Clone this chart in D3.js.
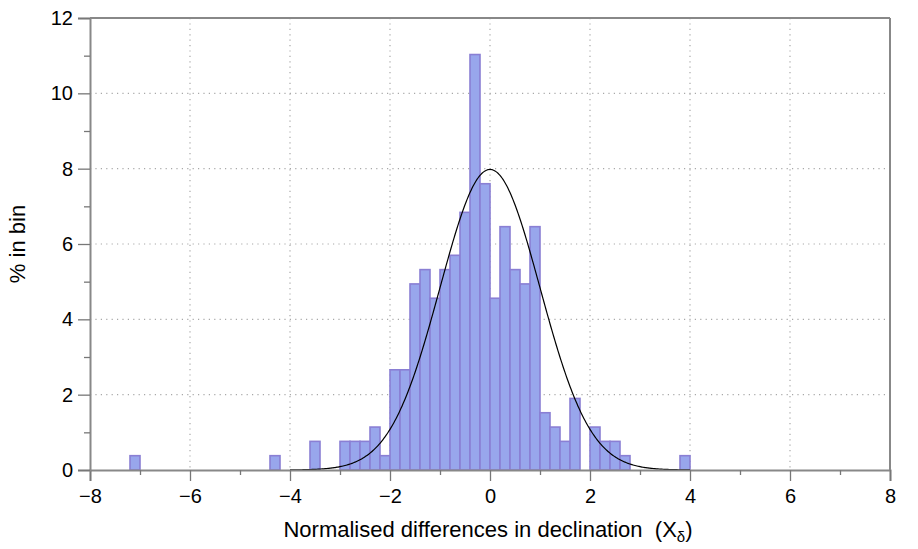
<!DOCTYPE html>
<html>
<head>
<meta charset="utf-8">
<script src="https://cdn.jsdelivr.net/npm/d3@7"></script>
<style>
  body { margin: 0; background: #fff; }
  text { font-family: "Liberation Sans", Arial, Helvetica, sans-serif; fill: #000; }
</style>
</head>
<body>
<div id="chart"></div>
<script>
// histogram: lower edge of each 0.2-wide bin and % in that bin
var binLow = [-7.2, -4.4, -3.6, -3.0, -2.8, -2.6, -2.4, -2.2, -2.0, -1.8, -1.6, -1.4, -1.2, -1.0,
              -0.8, -0.6, -0.4, -0.2, 0.0, 0.2, 0.4, 0.6, 0.8, 1.0, 1.2, 1.4, 1.6, 2.0, 2.2, 2.4, 2.6, 3.8];
var pct    = [0.38, 0.38, 0.76, 0.76, 0.76, 0.76, 1.14, 0.38, 2.66, 2.66, 4.94, 5.32, 4.56, 5.32,
              5.70, 6.84, 11.03, 7.60, 4.56, 6.46, 5.32, 4.94, 6.46, 1.52, 1.14, 0.76, 1.90, 1.14, 0.76, 0.76, 0.38, 0.38];
var binWidth = 0.2;

var xTicks = [-8, -6, -4, -2, 0, 2, 4, 6, 8];
var xMinor = [-7, -5, -3, -1, 1, 3, 5, 7];
var yTicks = [0, 2, 4, 6, 8, 10, 12];
var yMinor = [1, 3, 5, 7, 9, 11];
var xGrid = [-6, -4, -2, 0, 2, 4, 6];
var yGrid = [2, 4, 6, 8, 10];

var width = 918, height = 549;
var margin = {top: 18, right: 28, bottom: 79, left: 90};

var svg = d3.select('#chart').append('svg')
    .attr('width', width)
    .attr('height', height);

var x = d3.scaleLinear().domain([-8, 8]).range([margin.left, width - margin.right]);
var y = d3.scaleLinear().domain([0, 12]).range([height - margin.bottom, margin.top]);

// dotted grid, behind the bars
svg.append('g').selectAll('line').data(xGrid).enter().append('line')
    .attr('x1', d => x(d)).attr('x2', d => x(d))
    .attr('y1', y(12)).attr('y2', y(0))
    .attr('stroke', '#a8a8a8').attr('stroke-width', 1.2)
    .attr('stroke-dasharray', '1.2,4.2');
svg.append('g').selectAll('line').data(yGrid).enter().append('line')
    .attr('x1', x(-8)).attr('x2', x(8))
    .attr('y1', d => y(d)).attr('y2', d => y(d))
    .attr('stroke', '#a8a8a8').attr('stroke-width', 1.2)
    .attr('stroke-dasharray', '1.2,4.2');

// bars
svg.append('g').selectAll('rect')
    .data(binLow.map((b, i) => ({x0: b, x1: b + binWidth, v: pct[i]})))
    .enter().append('rect')
    .attr('x', d => x(d.x0))
    .attr('y', d => y(d.v))
    .attr('width', d => x(d.x1) - x(d.x0))
    .attr('height', d => y(0) - y(d.v))
    .attr('fill', '#98a6ec')
    .attr('stroke', '#8a7fd4')
    .attr('stroke-width', 1.6);

// normal curve scaled to % per bin
var curveX = d3.range(-4, 4.001, 0.02);
var line = d3.line()
    .x(d => x(d))
    .y(d => y(100 * binWidth * Math.exp(-d * d / 2) / Math.sqrt(2 * Math.PI)));
svg.append('path')
    .datum(curveX)
    .attr('d', line)
    .attr('fill', 'none')
    .attr('stroke', '#000')
    .attr('stroke-width', 1.2);

// axes
var minus = d => (d < 0 ? '\u2212' + Math.abs(d) : '' + d);
var xAxis = svg.append('g')
    .attr('transform', 'translate(0,' + y(0) + ')')
    .call(d3.axisBottom(x).tickValues(xTicks).tickFormat(minus).tickSize(11).tickPadding(8));
var xAxisMinor = svg.append('g')
    .attr('transform', 'translate(0,' + y(0) + ')')
    .call(d3.axisBottom(x).tickValues(xMinor).tickFormat('').tickSize(5));
var yAxis = svg.append('g')
    .attr('transform', 'translate(' + x(-8) + ',0)')
    .call(d3.axisLeft(y).tickValues(yTicks).tickSize(12).tickPadding(5));
var yAxisMinor = svg.append('g')
    .attr('transform', 'translate(' + x(-8) + ',0)')
    .call(d3.axisLeft(y).tickValues(yMinor).tickFormat('').tickSize(6));

[xAxis, xAxisMinor, yAxis, yAxisMinor].forEach(function(g) {
    g.select('.domain').attr('stroke', '#888').attr('stroke-width', 2);
    g.selectAll('.tick line').attr('stroke', '#777').attr('stroke-width', 1.3);
    g.selectAll('.tick text').style('font-size', '20px').attr('fill', '#000')
        .style('font-family', '"Liberation Sans", Arial, sans-serif');
});
xAxisMinor.select('.domain').remove();
yAxisMinor.select('.domain').remove();

// top and right frame
svg.append('line')
    .attr('x1', x(-8)).attr('x2', x(8)).attr('y1', y(12)).attr('y2', y(12))
    .attr('stroke', '#888').attr('stroke-width', 2);
svg.append('line')
    .attr('x1', x(8)).attr('x2', x(8)).attr('y1', y(12)).attr('y2', y(0))
    .attr('stroke', '#888').attr('stroke-width', 2);

// titles
var xt = svg.append('text')
    .attr('x', 488)
    .attr('y', 537)
    .attr('text-anchor', 'middle')
    .style('white-space', 'pre')
    .style('font-size', '22px');
xt.append('tspan').text('Normalised differences in declination  (X');
xt.append('tspan').attr('dy', 5).style('font-size', '15px').text('\u03b4');
xt.append('tspan').attr('dy', -5).text(')');

svg.append('text')
    .attr('transform', 'translate(25,' + (y(0) + y(12)) / 2 + ') rotate(-90)')
    .attr('text-anchor', 'middle')
    .style('font-size', '22px')
    .text('% in bin');
</script>
</body>
</html>
